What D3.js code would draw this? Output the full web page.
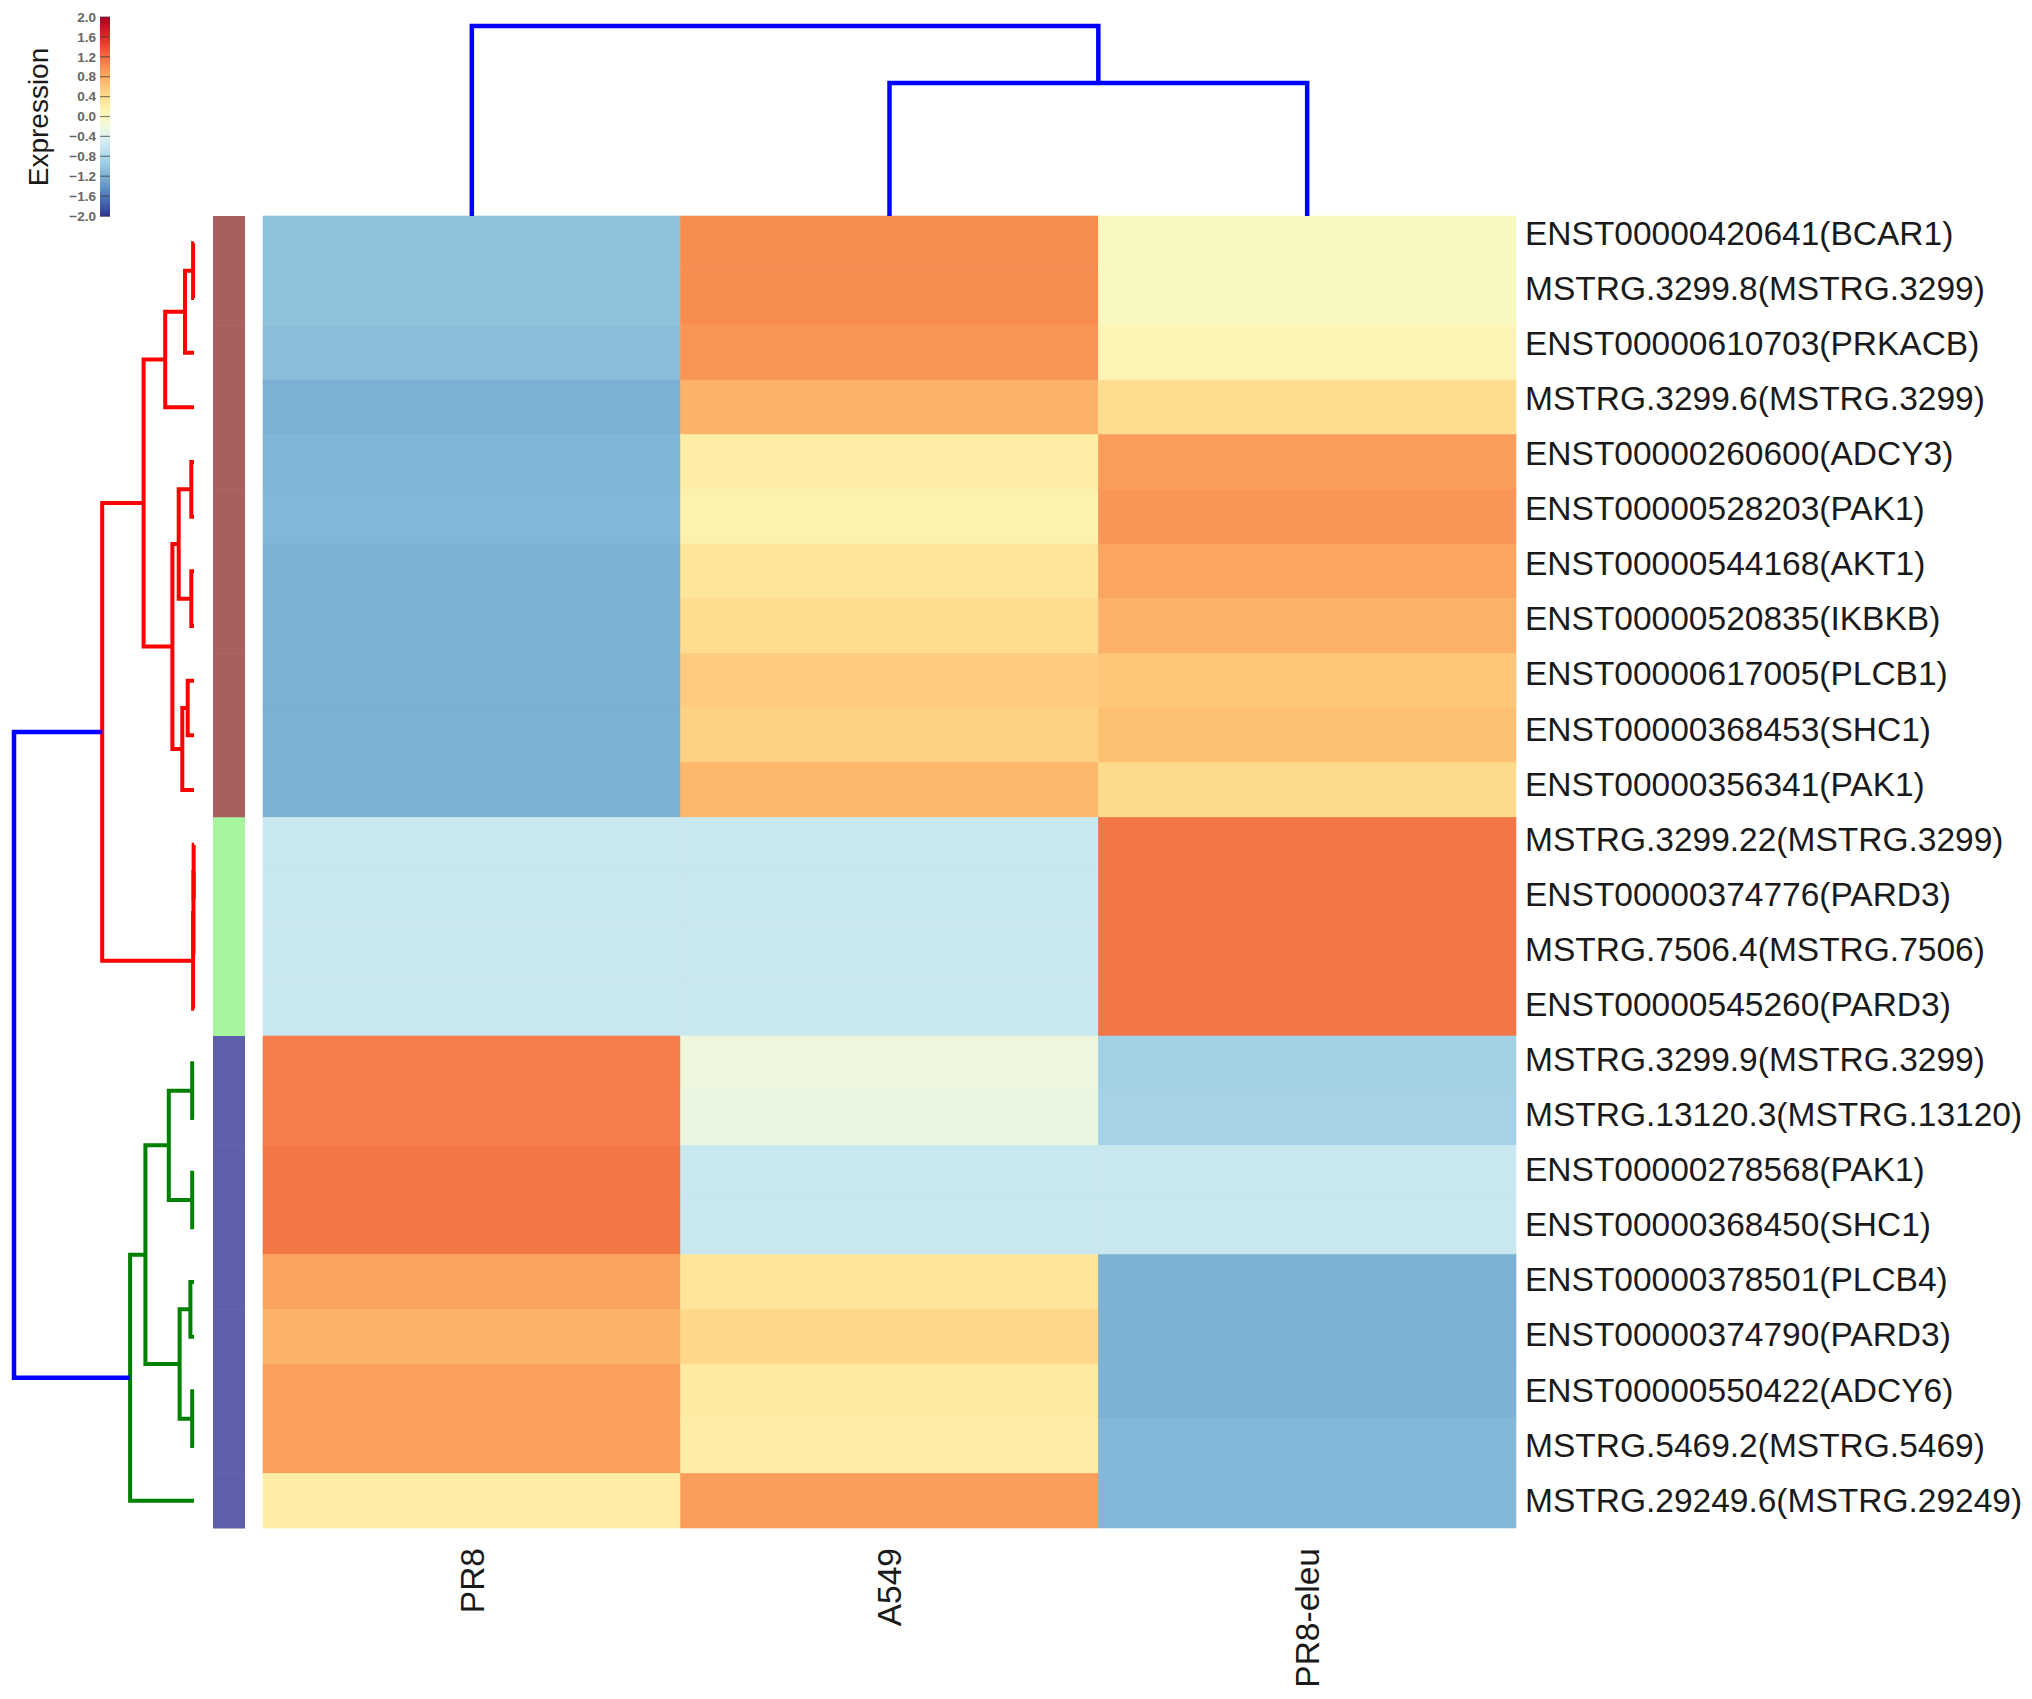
<!DOCTYPE html>
<html>
<head>
<meta charset="utf-8">
<script src="https://cdn.jsdelivr.net/npm/d3@7"></script>
<style>
  body { margin: 0; background: #fff; }
  text { font-family: "Liberation Sans", Arial, Helvetica, sans-serif; }
</style>
</head>
<body>
<div id="chart"></div>
<script>
// row labels, top to bottom
var rowLabels = [
  "ENST00000420641(BCAR1)", "MSTRG.3299.8(MSTRG.3299)", "ENST00000610703(PRKACB)",
  "MSTRG.3299.6(MSTRG.3299)", "ENST00000260600(ADCY3)", "ENST00000528203(PAK1)",
  "ENST00000544168(AKT1)", "ENST00000520835(IKBKB)", "ENST00000617005(PLCB1)",
  "ENST00000368453(SHC1)", "ENST00000356341(PAK1)", "MSTRG.3299.22(MSTRG.3299)",
  "ENST00000374776(PARD3)", "MSTRG.7506.4(MSTRG.7506)", "ENST00000545260(PARD3)",
  "MSTRG.3299.9(MSTRG.3299)", "MSTRG.13120.3(MSTRG.13120)", "ENST00000278568(PAK1)",
  "ENST00000368450(SHC1)", "ENST00000378501(PLCB4)", "ENST00000374790(PARD3)",
  "ENST00000550422(ADCY6)", "MSTRG.5469.2(MSTRG.5469)", "MSTRG.29249.6(MSTRG.29249)"
];
var colLabels = ["PR8", "A549", "PR8-eleu"];

// expression (row z-score) per sample
var pr8  = [-1.0, -1.0, -1.05, -1.15, -1.12, -1.1, -1.15, -1.15, -1.15, -1.15, -1.15,
            -0.58, -0.58, -0.58, -0.58, 1.1, 1.1, 1.15, 1.15, 0.85, 0.75, 0.88, 0.88, 0.22];
var a549 = [1.0, 1.0, 0.95, 0.75, 0.22, 0.15, 0.32, 0.4, 0.55, 0.5, 0.72,
            -0.58, -0.58, -0.58, -0.58, -0.22, -0.25, -0.58, -0.58, 0.32, 0.45, 0.26, 0.22, 0.9];
var eleu = [0.0, 0.0, 0.08, 0.4, 0.9, 0.95, 0.84, 0.76, 0.6, 0.65, 0.43,
            1.15, 1.15, 1.15, 1.15, -0.86, -0.84, -0.58, -0.58, -1.15, -1.15, -1.14, -1.1, -1.1];

// row cluster of each row (0 brown, 1 green, 2 purple)
var rowGroup = [0,0,0,0,0,0,0,0,0,0,0, 1,1,1,1, 2,2,2,2,2,2,2,2,2];
var groupColors = ["#a95f5f", "#a8f5a0", "#5f5fab"];

// row dendrogram: [left, right, height, colour] ; leaves are row indices
var rowTree =
  [[[[[[0, 1, 0.05, "r"], 2, 0.5, "r"], 3, 1.6, "r"],
     [[[4, 5, 0.15, "r"], [6, 7, 0.15, "r"], 0.85, "r"],
      [[8, 9, 0.35, "r"], 10, 0.65, "r"], 1.2, "r"], 2.8, "r"],
    [[[11, 12, 0.02, "r"], 13, 0.03, "r"], 14, 0.05, "r"], 5.1, "r"],
   [[[[15, 16, 0.1, "g"], [17, 18, 0.1, "g"], 1.4, "g"],
     [[19, 20, 0.2, "g"], [21, 22, 0.1, "g"], 0.8, "g"], 2.7, "g"],
    23, 3.55, "g"], 10, "b"];

// column dendrogram
var colTree = [0, [1, 2, 0.7, "b"], 1, "b"];

var colorbarTicks = [2.0, 1.6, 1.2, 0.8, 0.4, 0.0, -0.4, -0.8, -1.2, -1.6, -2.0];

var width = 2032, height = 1699;
var svg = d3.select("#chart").append("svg")
    .attr("width", width)
    .attr("height", height);

var color = d3.scaleSequential(d3.interpolateRdYlBu).domain([2, -2]);
var lineColor = { r: "#ff0000", g: "#008000", b: "#0000ff" };

var x = d3.scaleBand().domain(d3.range(colLabels.length)).range([263, 1516]);
var y = d3.scaleBand().domain(d3.range(rowLabels.length)).range([216, 1528]);
// labels sit on a slightly wider spread than the rows
var yLabel = d3.scalePoint().domain(d3.range(rowLabels.length)).range([233, 1500]);

// heatmap cells
var series = [pr8, a549, eleu];
var cells = [];
series.forEach(function(vals, c) {
  vals.forEach(function(v, r) { cells.push({c: c, r: r, v: v}); });
});
svg.append("g").selectAll("rect")
  .data(cells)
  .enter().append("rect")
    .attr("x", function(d) { return x(d.c); })
    .attr("y", function(d) { return y(d.r); })
    .attr("width", x.bandwidth())
    .attr("height", y.bandwidth())
    .attr("fill", function(d) { return color(d.v); })
    .attr("stroke", function(d) { return color(d.v); })
    .attr("stroke-width", 0.6);

// row side colour bar
svg.append("g").selectAll("rect")
  .data(rowGroup)
  .enter().append("rect")
    .attr("x", 213)
    .attr("y", function(d, i) { return y(i); })
    .attr("width", 32)
    .attr("height", y.bandwidth() + 0.5)
    .attr("fill", function(d) { return groupColors[d]; });

// row labels
svg.append("g").selectAll("text")
  .data(rowLabels)
  .enter().append("text")
    .attr("x", 1525)
    .attr("y", function(d, i) { return yLabel(i); })
    .attr("dy", "0.35em")
    .style("font-size", "33.5px")
    .style("fill", "#1a1a1a")
    .text(function(d) { return d; });

// column labels
svg.append("g").selectAll("text")
  .data(colLabels)
  .enter().append("text")
    .attr("transform", function(d, i) {
      return "translate(" + (x(i) + x.bandwidth() / 2) + ",1548) rotate(-90)";
    })
    .attr("dy", "0.35em")
    .attr("text-anchor", "end")
    .style("font-size", "33.5px")
    .style("fill", "#1a1a1a")
    .text(function(d) { return d; });

// dendrograms: walk a nested array, return position of each node and draw its U
function drawTree(g, node, leafPos, hScale, horizontal) {
  if (!Array.isArray(node)) return { p: leafPos(node), h: 0 };
  var a = drawTree(g, node[0], leafPos, hScale, horizontal);
  var b = drawTree(g, node[1], leafPos, hScale, horizontal);
  var h = node[2];
  var path;
  if (horizontal) {
    path = "M" + hScale(a.h) + "," + a.p + "H" + hScale(h) + "V" + b.p + "H" + hScale(b.h);
  } else {
    path = "M" + a.p + "," + hScale(a.h) + "V" + hScale(h) + "H" + b.p + "V" + hScale(b.h);
  }
  g.append("path")
    .attr("d", path)
    .attr("fill", "none")
    .attr("stroke", lineColor[node[3]])
    .attr("stroke-width", node[3] === "b" ? 4.5 : 4)
    .attr("stroke-linejoin", "miter");
  return { p: (a.p + b.p) / 2, h: h };
}

var rowH = d3.scaleLinear().domain([0, 10]).range([194, 14]);
drawTree(svg.append("g"), rowTree,
  function(i) { return y(i) + y.bandwidth() / 2; }, rowH, true);

var colH = d3.scaleLinear().domain([0, 1]).range([216, 26]);
drawTree(svg.append("g"), colTree,
  function(i) { return x(i) + x.bandwidth() / 2; }, colH, false);

// colour bar legend
var cb = d3.scaleLinear().domain([2, -2]).range([17, 216]);
var steps = d3.range(2, -2, -0.02);
var legend = svg.append("g");
legend.selectAll("rect")
  .data(steps)
  .enter().append("rect")
    .attr("x", 100)
    .attr("y", function(d) { return cb(d); })
    .attr("width", 10)
    .attr("height", cb(-0.02) - cb(0) + 0.5)
    .attr("fill", function(d) { return color(d - 0.01); });

legend.selectAll("line")
  .data(colorbarTicks)
  .enter().append("line")
    .attr("x1", 100).attr("x2", 110)
    .attr("y1", function(d) { return cb(d); })
    .attr("y2", function(d) { return cb(d); })
    .attr("stroke", "#333")
    .attr("stroke-opacity", 0.6)
    .attr("stroke-width", 1.2);

legend.selectAll("text")
  .data(colorbarTicks)
  .enter().append("text")
    .attr("x", 96)
    .attr("y", function(d) { return cb(d); })
    .attr("dy", "0.35em")
    .attr("text-anchor", "end")
    .style("font-size", "13.5px")
    .style("font-weight", "bold")
    .style("fill", "#666")
    .text(d3.format(".1f"));

legend.append("text")
  .attr("transform", "translate(38,117) rotate(-90)")
  .attr("dy", "0.35em")
  .attr("text-anchor", "middle")
  .style("font-size", "28px")
  .style("fill", "#1a1a1a")
  .text("Expression");
</script>
</body>
</html>
